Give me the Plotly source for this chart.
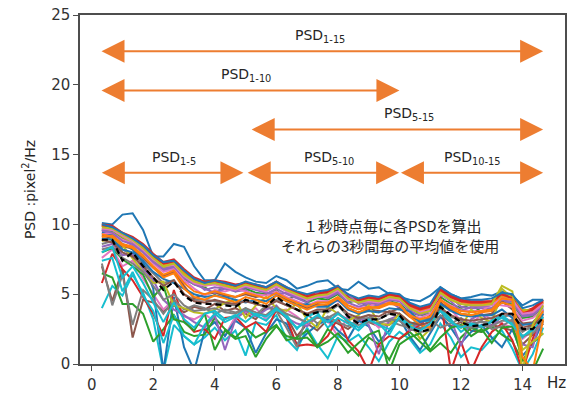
import plotly.graph_objects as go

# Frequency bins (Hz), 1/3 Hz resolution from 3-second windows
freq = [0.33, 0.67, 1.00, 1.33, 1.67, 2.00, 2.33, 2.67, 3.00, 3.33, 3.67,
        4.00, 4.33, 4.67, 5.00, 5.33, 5.67, 6.00, 6.33, 6.67, 7.00, 7.33,
        7.67, 8.00, 8.33, 8.67, 9.00, 9.33, 9.67, 10.00, 10.33, 10.67, 11.00,
        11.33, 11.67, 12.00, 12.33, 12.67, 13.00, 13.33, 13.67, 14.00, 14.33, 14.67]

# PSD spectra, one per 3-second window
psd_01 = [10.1, 10.0, 10.7, 10.8, 9.6, 7.7, 7.7, 8.6, 8.4, 7.0, 6.0,
          6.0, 7.2, 6.6, 6.2, 5.9, 5.8, 6.3, 6.0, 5.4, 5.6, 5.9,
          6.0, 5.4, 5.3, 5.9, 5.4, 5.5, 5.0, 4.8, 4.6, 4.5, 4.9,
          5.5, 5.0, 4.7, 4.8, 5.0, 4.9, 5.2, 4.9, 4.2, 4.6, 4.6]
psd_02 = [10.0, 9.8, 9.3, 9.0, 8.5, 7.7, 7.2, 7.4, 6.6, 6.0, 5.9,
          5.9, 5.8, 5.5, 5.8, 5.6, 5.4, 5.8, 5.3, 5.1, 4.8, 5.0,
          5.1, 5.5, 4.8, 4.5, 4.7, 4.6, 4.9, 4.8, 4.2, 3.9, 4.1,
          5.3, 4.8, 4.5, 4.4, 4.4, 4.4, 4.9, 4.8, 3.8, 3.9, 4.5]
psd_03 = [9.6, 9.5, 9.0, 8.6, 8.0, 7.3, 6.8, 7.0, 6.1, 5.7, 5.5,
          5.0, 5.7, 5.2, 5.4, 5.1, 5.0, 5.3, 4.6, 4.9, 4.4, 4.7,
          4.6, 5.0, 4.4, 4.6, 4.0, 4.1, 4.5, 4.3, 3.7, 3.5, 3.6,
          4.8, 4.3, 4.0, 4.3, 3.7, 4.0, 4.4, 4.3, 3.3, 3.4, 4.0]
psd_04 = [10.0, 9.9, 9.4, 9.1, 8.6, 7.9, 7.3, 7.5, 6.8, 6.2, 5.9,
          6.0, 5.9, 5.7, 5.8, 5.7, 5.5, 5.9, 5.5, 5.1, 4.9, 5.1,
          5.2, 5.6, 4.9, 4.6, 4.8, 4.7, 5.0, 4.9, 4.3, 4.0, 4.2,
          5.4, 4.9, 4.6, 4.5, 4.5, 4.5, 5.0, 4.8, 3.7, 4.0, 4.6]
psd_05 = [9.5, 9.3, 8.9, 8.5, 8.1, 7.4, 6.7, 6.9, 5.8, 6.0, 5.3,
          5.5, 5.4, 5.2, 5.3, 4.8, 5.0, 5.4, 5.0, 4.7, 4.4, 5.1,
          4.7, 5.1, 4.4, 4.1, 4.3, 4.2, 4.5, 4.0, 3.8, 3.5, 3.8,
          4.9, 4.8, 4.1, 4.0, 4.0, 4.0, 4.5, 4.4, 3.4, 3.5, 4.1]
psd_06 = [7.0, 4.5, 6.8, 1.9, 4.6, 4.4, 3.8, 4.2, 3.7, 4.1, 3.9,
          4.3, 3.8, 4.0, 3.6, 3.2, 4.1, 3.8, 3.4, 2.0, 2.9, 2.4,
          3.2, 2.9, 2.5, 3.1, 3.0, 2.7, 2.8, 3.3, 2.9, 2.5, 3.2,
          3.4, 2.7, 3.0, 2.4, 2.3, 2.8, 2.6, 2.4, 1.4, 2.1, 2.9]
psd_07 = [7.6, 8.2, 7.0, 7.4, 6.1, 5.0, 3.9, 4.6, 3.4, 3.2, 3.6,
          3.0, 2.0, 3.4, 3.7, 4.0, 3.2, 3.8, 3.9, 3.4, 2.8, 3.4,
          3.1, 2.0, 3.5, 3.0, 3.3, 2.6, 3.0, 3.6, 2.4, 3.0, 2.7,
          3.3, 3.9, 3.1, 2.8, 3.6, 3.2, 2.9, 2.6, 1.8, 2.4, 3.1]
psd_08 = [8.6, 8.8, 8.2, 7.8, 7.2, 6.5, 5.8, 6.0, 5.0, 4.6, 4.6,
          4.5, 4.3, 4.2, 4.6, 4.3, 4.1, 4.6, 4.2, 3.9, 3.5, 3.8,
          3.7, 4.2, 3.4, 3.2, 3.3, 3.2, 3.6, 3.4, 2.8, 2.6, 2.6,
          3.9, 3.4, 3.1, 2.9, 3.0, 3.0, 3.4, 3.5, 2.4, 2.6, 3.3]
psd_09 = [9.7, 9.6, 9.1, 8.7, 8.2, 7.5, 6.9, 7.1, 6.5, 6.0, 5.6,
          5.8, 5.7, 5.4, 5.7, 5.5, 5.3, 5.6, 5.3, 5.0, 4.8, 4.9,
          5.0, 5.3, 4.8, 4.4, 4.6, 4.5, 4.7, 4.7, 4.1, 3.8, 4.0,
          5.2, 4.7, 4.4, 4.3, 4.3, 4.5, 5.4, 4.7, 3.9, 3.8, 4.4]
psd_10 = [4.0, 5.6, 4.9, 6.4, 5.1, 3.2, -0.5, 2.8, 2.0, 1.4, 1.9,
          2.6, 1.7, 2.4, 0.6, 3.0, 2.8, 3.5, 1.8, 1.0, 2.6, 1.4,
          0.4, 2.0, 1.6, 2.1, 1.2, 0.2, 1.6, 2.3, 1.8, 0.8, 1.4,
          2.9, 1.9, 0.5, 1.2, 1.0, 1.8, 2.4, 1.1, -0.5, 0.7, 2.6]
psd_11 = [9.4, 9.2, 8.6, 8.2, 7.3, 5.4, -0.5, 4.8, 1.2, -0.5, 2.4,
          3.0, 2.0, 3.1, 2.6, 0.8, 2.2, 3.2, 2.9, 1.4, 2.2, 2.8,
          3.2, 2.4, 1.8, 3.1, 2.7, 1.6, 2.4, 3.3, 2.0, 1.0, 2.2,
          3.4, 2.6, 1.5, 2.3, 2.8, 1.9, 1.2, 2.5, 0.6, 1.4, 3.1]
psd_12 = [9.9, 9.7, 9.3, 8.9, 8.4, 7.6, 7.1, 7.3, 6.5, 5.9, 5.7,
          5.8, 5.7, 5.4, 5.7, 5.5, 5.3, 5.7, 5.3, 5.0, 4.7, 4.9,
          5.0, 5.4, 4.7, 4.4, 4.6, 4.5, 4.8, 4.7, 4.1, 3.8, 4.0,
          5.2, 4.7, 4.4, 4.3, 4.3, 4.3, 4.8, 4.7, 3.7, 3.8, 4.4]
psd_13 = [6.5, 6.2, 4.3, 4.3, 3.6, 1.6, 2.5, 3.5, 2.3, 2.0, 2.1,
          3.3, 2.5, 1.9, 2.6, 1.9, 2.3, 2.8, 1.7, 1.9, 2.4, 1.2,
          1.6, 2.2, 1.4, 0.6, 1.9, 1.4, 0.3, 1.8, 2.3, 1.6, 0.9,
          1.5, 0.8, 1.9, 2.6, 2.3, 2.7, 2.1, 1.6, 0.2, 1.5, 2.2]
psd_14 = [5.8, 7.9, 6.8, 6.0, 4.8, 3.6, 2.0, 5.3, 3.1, 2.3, 2.5,
          1.8, 3.3, 3.4, 2.6, 3.0, 2.3, 3.9, 3.3, 1.3, 1.4, 1.3,
          2.0, 3.3, 1.7, 0.9, -0.5, 1.4, 2.0, 1.8, 2.4, 2.8, 3.5,
          4.8, -0.5, 1.6, -0.5, 1.2, 2.3, 2.9, 1.7, -0.5, 1.8, 3.6]
psd_15 = [8.4, 8.6, 7.8, 7.9, 6.8, 6.0, 4.6, 3.9, 3.5, 3.0, 2.6,
          3.5, 1.0, 3.2, 3.8, 3.4, 3.9, 4.2, 3.3, 2.9, 2.7, 3.4,
          3.0, 3.6, 3.2, 3.4, 2.8, 0.7, 3.2, 3.5, 2.4, 3.0, 3.2,
          3.8, 3.2, 1.3, 3.2, 3.6, 2.7, 3.4, 3.0, 1.4, 1.2, 3.9]
psd_16 = [9.2, 9.0, 8.4, 8.3, 7.6, 6.9, 6.3, 6.6, 5.6, 4.7, 5.0,
          5.1, 4.9, 4.8, 5.0, 4.8, 5.0, 5.0, 4.6, 4.3, 4.0, 4.3,
          4.2, 4.7, 4.0, 3.7, 3.9, 3.8, 3.7, 4.0, 3.4, 3.1, 3.3,
          4.4, 3.9, 3.6, 3.5, 3.5, 3.6, 4.5, 3.9, 2.9, 3.0, 3.7]
psd_17 = [9.3, 9.4, 8.9, 8.6, 8.0, 7.2, 6.6, 6.8, 6.0, 5.4, 4.9,
          5.3, 5.2, 5.4, 5.2, 5.0, 4.9, 5.2, 4.8, 4.5, 4.2, 4.5,
          4.5, 4.5, 4.2, 4.0, 4.1, 4.5, 4.4, 4.2, 3.6, 3.3, 3.6,
          4.6, 4.2, 3.9, 3.8, 3.8, 4.3, 4.2, 4.1, 3.1, 3.3, 3.9]
psd_18 = [7.2, 4.2, 6.4, 2.8, 5.3, 4.6, 3.6, 4.6, 3.9, 4.2, 4.0,
          3.6, 3.9, 3.7, 3.9, 3.5, 4.2, 3.8, 2.6, 1.2, 3.6, 2.9,
          3.4, 3.0, 2.7, 3.2, 3.5, 3.0, 3.1, 2.8, 2.6, 3.1, 3.2,
          2.6, 2.9, 3.3, 2.7, 3.1, 2.5, 2.7, 3.2, 2.3, 2.8, 3.0]
psd_19 = [8.8, 9.0, 8.5, 7.6, 6.6, 5.8, 5.9, 4.2, 4.0, 3.7, 3.6,
          3.9, 4.4, 4.6, 3.3, 4.2, 4.8, 4.0, 3.8, 4.3, 3.2, 2.6,
          4.1, 3.6, 3.1, 3.5, 4.2, 2.9, 2.8, 3.6, 3.0, 1.8, 2.5,
          4.3, 3.1, 2.6, 3.9, 3.3, 3.0, 5.1, 4.4, 1.0, 1.6, 2.2]
psd_20 = [7.4, 7.6, 5.2, 6.6, 4.9, 3.8, 1.5, 3.5, 2.0, 1.4, 2.8,
          3.6, 3.0, 3.4, 4.0, 3.5, 3.1, 3.9, 3.5, 2.5, 3.4, 3.7,
          2.6, 3.3, 2.9, 2.4, 3.1, 2.9, 2.1, 3.4, 2.8, 3.2, 3.0,
          4.0, 3.2, 2.3, 2.8, 2.6, 3.1, 3.5, 2.9, 1.9, 2.6, 3.6]
psd_21 = [9.0, 8.9, 8.2, 8.0, 7.4, 6.6, 6.1, 5.8, 5.4, 5.0, 4.8,
          4.9, 4.8, 4.6, 4.4, 4.6, 4.5, 4.9, 4.5, 4.2, 4.3, 4.1,
          4.1, 4.6, 3.9, 3.6, 3.8, 3.7, 4.0, 3.9, 3.8, 3.0, 3.2,
          4.3, 3.8, 3.5, 3.4, 3.5, 3.5, 3.9, 3.3, 2.8, 2.9, 3.6]
psd_22 = [9.1, 9.2, 8.6, 8.4, 7.8, 6.9, 6.2, 6.5, 5.4, 4.8, 4.6,
          4.9, 4.7, 4.4, 4.8, 4.6, 4.3, 4.9, 4.5, 4.2, 3.9, 4.2,
          4.3, 4.7, 4.0, 3.7, 4.0, 4.1, 4.4, 4.3, 3.4, 2.8, 2.6,
          4.6, 4.0, 3.6, 3.5, 3.7, 3.8, 4.4, 4.2, -0.5, 2.6, 3.8]
psd_23 = [8.0, 8.3, 7.5, 7.0, 6.4, 4.8, 5.6, 3.2, 3.0, 2.4, 3.6,
          1.0, 2.4, 1.8, 2.0, 0.5, 1.8, 2.7, 2.0, 1.8, 1.9, 1.2,
          2.5, 1.8, 0.8, 1.5, 2.1, 2.4, -0.5, 1.4, 1.9, 2.2, 1.0,
          1.9, 2.6, 2.8, 2.0, 2.5, 1.5, 2.6, 2.7, 0.4, -0.5, 1.1]
psd_24 = [9.9, 9.8, 9.4, 9.0, 8.4, 7.7, 7.2, 7.3, 6.7, 6.1, 5.8,
          5.9, 5.8, 5.6, 5.8, 5.6, 5.3, 5.9, 5.4, 5.1, 4.8, 5.0,
          5.1, 5.5, 4.8, 4.5, 4.7, 4.6, 5.0, 4.8, 4.2, 3.9, 4.1,
          5.3, 4.8, 4.5, 4.4, 4.4, 4.5, 5.0, 4.7, 3.6, 3.9, 4.5]
psd_25 = [9.6, 9.4, 8.8, 8.6, 8.0, 7.3, 6.8, 7.0, 6.2, 5.7, 5.4,
          5.1, 5.4, 5.3, 5.5, 5.3, 5.1, 5.0, 5.1, 4.8, 4.6, 4.8,
          4.8, 5.2, 5.0, 4.3, 4.4, 4.3, 4.6, 4.5, 3.9, 3.7, 3.8,
          5.0, 4.5, 3.8, 4.1, 4.1, 4.2, 4.6, 4.5, 3.5, 3.6, 4.2]
psd_26 = [8.9, 8.7, 8.0, 7.7, 7.0, 6.2, 5.6, 6.0, 5.0, 4.5, 4.4,
          4.6, 4.4, 4.3, 4.5, 4.3, 4.1, 4.5, 4.2, 3.9, 3.6, 3.9,
          3.9, 4.3, 3.6, 3.3, 3.5, 3.4, 3.8, 3.6, 3.0, 2.8, 3.0,
          4.0, 3.5, 3.2, 3.1, 3.2, 3.3, 3.6, 3.6, 2.6, 2.8, 3.4]
psd_27 = [9.7, 9.6, 9.2, 8.8, 8.2, 7.5, 7.0, 7.1, 6.3, 5.8, 5.6,
          5.7, 5.5, 5.3, 5.6, 5.4, 5.2, 5.6, 5.2, 4.9, 4.6, 4.8,
          4.9, 5.3, 4.6, 4.4, 4.5, 4.4, 4.7, 4.6, 4.0, 3.7, 3.9,
          5.0, 4.6, 4.3, 4.2, 4.2, 4.2, 4.7, 4.6, 3.6, 3.7, 4.3]
psd_28 = [8.2, 8.4, 7.6, 7.2, 6.6, 5.6, 4.6, 5.0, 4.2, 3.8, 3.9,
          4.0, 3.7, 3.6, 4.0, 3.7, 3.5, 4.1, 3.6, 3.3, 3.0, 3.3,
          3.3, 3.7, 3.0, 2.8, 3.0, 2.9, 3.2, 3.1, 2.5, 2.3, 2.4,
          3.5, 3.0, 2.7, 2.6, 2.7, 2.7, 3.1, 3.1, 2.0, 2.2, 2.9]
psd_29 = [9.8, 9.7, 9.3, 8.9, 8.3, 7.6, 7.0, 7.2, 6.4, 5.9, 5.7,
          5.8, 5.6, 5.4, 5.7, 5.5, 5.3, 5.7, 5.3, 5.0, 4.7, 4.9,
          5.0, 5.4, 4.7, 4.4, 4.6, 4.5, 4.8, 4.7, 4.0, 3.6, 3.8,
          5.1, 4.6, 4.3, 4.2, 4.2, 4.3, 5.6, 5.2, -0.5, 2.8, 4.2]
psd_30 = [8.0, 8.4, 6.2, 7.0, 5.8, 4.4, 3.0, 4.4, 3.2, 2.6, 3.6,
          3.8, 3.2, 3.5, 3.0, 3.6, 3.4, 4.0, 3.3, 2.6, 3.0, 3.5,
          3.0, 3.6, 3.1, 2.6, 3.2, 2.8, 2.5, 3.3, 2.7, 2.4, 2.9,
          3.8, 3.0, 2.6, 2.9, 2.7, 3.0, 3.3, 2.8, 2.0, 2.4, 3.4]
psd_31 = [10.0, 9.8, 9.4, 9.0, 8.5, 7.8, 7.3, 7.4, 6.7, 6.1, 5.8,
          6.0, 5.8, 5.6, 5.9, 5.7, 5.5, 5.9, 5.5, 5.2, 5.0, 5.2,
          5.3, 5.6, 5.0, 4.7, 4.9, 4.8, 5.1, 5.0, 4.4, 4.1, 4.3,
          5.5, 5.0, 4.7, 4.6, 4.6, 4.7, 5.1, 5.0, 4.0, 4.2, 4.6]
psd_32 = [9.3, 9.1, 8.5, 8.3, 7.7, 7.0, 6.4, 6.7, 5.8, 5.2, 5.0,
          5.2, 5.0, 4.8, 5.1, 4.9, 4.7, 5.1, 4.7, 4.4, 4.1, 4.4,
          4.4, 4.8, 4.2, 3.9, 4.1, 4.0, 4.3, 4.2, 3.5, 3.2, 3.4,
          4.6, 4.1, 3.8, 3.7, 3.8, 3.9, 4.7, 4.6, 0.5, -0.5, 3.2]

# Average spectrum across windows
psd_mean = [8.9, 8.9, 7.4, 8.0, 7.0, 6.2, 5.3, 5.9, 4.9, 4.4, 4.3,
            4.3, 4.2, 4.1, 4.6, 4.4, 4.1, 4.8, 4.3, 3.9, 3.5, 3.7,
            3.8, 4.3, 3.4, 2.9, 3.2, 3.2, 3.6, 3.5, 2.6, 2.3, 2.5,
            4.1, 3.5, 3.0, 2.7, 2.8, 2.9, 3.6, 3.6, 2.5, 2.5, 3.3]

spectra = [psd_01, psd_02, psd_03, psd_04, psd_05, psd_06, psd_07, psd_08,
           psd_09, psd_10, psd_11, psd_12, psd_13, psd_14, psd_15, psd_16,
           psd_17, psd_18, psd_19, psd_20, psd_21, psd_22, psd_23, psd_24,
           psd_25, psd_26, psd_27, psd_28, psd_29, psd_30, psd_31, psd_32]

# Frequency bands marked with double arrows
band_labels = ["1-15", "1-10", "5-15", "1-5", "5-10", "10-15"]
band_start = [0.27, 0.27, 5.15, 0.28, 5.02, 10.0]
band_end = [14.67, 10.0, 14.67, 4.93, 9.99, 14.67]
band_level = [22.4, 19.6, 16.8, 13.7, 13.7, 13.7]
band_label_x = [7.43, 5.0, 10.3, 2.66, 7.72, 12.36]

note_lines = ["１秒時点毎に各PSDを算出", "それらの3秒間毎の平均値を使用"]

tab10 = ["#1f77b4", "#ff7f0e", "#2ca02c", "#d62728", "#9467bd",
         "#8c564b", "#e377c2", "#7f7f7f", "#bcbd22", "#17becf"]
ARROW = "#ED7D31"
TXT = "#262626"

W, H = 574, 394
ML, MR, MT, MB = 80, 9, 15, 30
pw, ph = W - ML - MR, H - MT - MB


def px_to_paper(px, py):
    return (px - ML) / pw, (H - MB - py) / ph


fig = go.Figure()
for i, s in enumerate(spectra):
    fig.add_trace(go.Scatter(x=freq, y=s, mode="lines",
                             line=dict(color=tab10[i % 10], width=2),
                             showlegend=False, hoverinfo="skip"))
fig.add_trace(go.Scatter(x=freq, y=psd_mean, mode="lines",
                         line=dict(color="black", width=2.2, dash="6px,4px"),
                         showlegend=False, hoverinfo="skip"))

annotations = []
for lab, x0, x1, yv, lx in zip(band_labels, band_start, band_end, band_level, band_label_x):
    annotations.append(dict(
        x=x1, y=yv, ax=x0, ay=yv, xref="x", yref="y", axref="x", ayref="y",
        text="", showarrow=True, arrowside="end+start",
        arrowhead=2, startarrowhead=2, arrowsize=2.3, startarrowsize=2.3,
        arrowwidth=2, arrowcolor=ARROW, standoff=0, startstandoff=0))
    annotations.append(dict(
        x=lx, y=yv, xref="x", yref="y", showarrow=False,
        text="PSD<sub>" + lab + "</sub>", yanchor="middle", yshift=15,
        font=dict(family="DejaVu Sans", size=14, color=TXT)))

for text, (cx, cy) in zip(note_lines, [(392, 225), (390, 245)]):
    xp, yp = px_to_paper(cx, cy)
    annotations.append(dict(
        x=xp, y=yp, xref="paper", yref="paper", showarrow=False, text=text,
        xanchor="center", yanchor="middle",
        font=dict(family="Noto Sans CJK JP", size=15, color=TXT)))

xp, yp = px_to_paper(556, 383)
annotations.append(dict(
    x=xp, y=yp, xref="paper", yref="paper", showarrow=False, text="Hz",
    xanchor="center", yanchor="middle",
    font=dict(family="DejaVu Sans", size=15, color=TXT)))

fig.update_layout(
    annotations=annotations,
    width=W, height=H,
    margin=dict(l=ML, r=MR, t=MT, b=MB, autoexpand=False),
    paper_bgcolor="white", plot_bgcolor="white",
    font=dict(family="DejaVu Sans", size=14, color=TXT),
    xaxis=dict(range=[-0.38, 15.38], tickvals=[0, 2, 4, 6, 8, 10, 12, 14],
               automargin=False,
               showgrid=False, zeroline=False, showline=True, mirror=True,
               linecolor="#4d4d4d", linewidth=1.5, ticks="outside", ticklen=5,
               tickcolor="#4d4d4d", tickwidth=1.2, ticklabelstandoff=1,
               tickfont=dict(family="DejaVu Sans", size=15, color="#333333")),
    yaxis=dict(range=[0, 25], tickvals=[0, 5, 10, 15, 20, 25],
               automargin=False,
               showgrid=False, zeroline=False, showline=True, mirror=True,
               linecolor="#4d4d4d", linewidth=1.5, ticks="outside", ticklen=5,
               tickcolor="#4d4d4d", tickwidth=1.2,
               tickfont=dict(family="DejaVu Sans", size=15, color="#333333"),
               title=dict(text="PSD :pixel<sup>2</sup>/Hz", standoff=12,
                          font=dict(family="DejaVu Sans", size=14, color=TXT))),
)

fig.write_html("out.html")
